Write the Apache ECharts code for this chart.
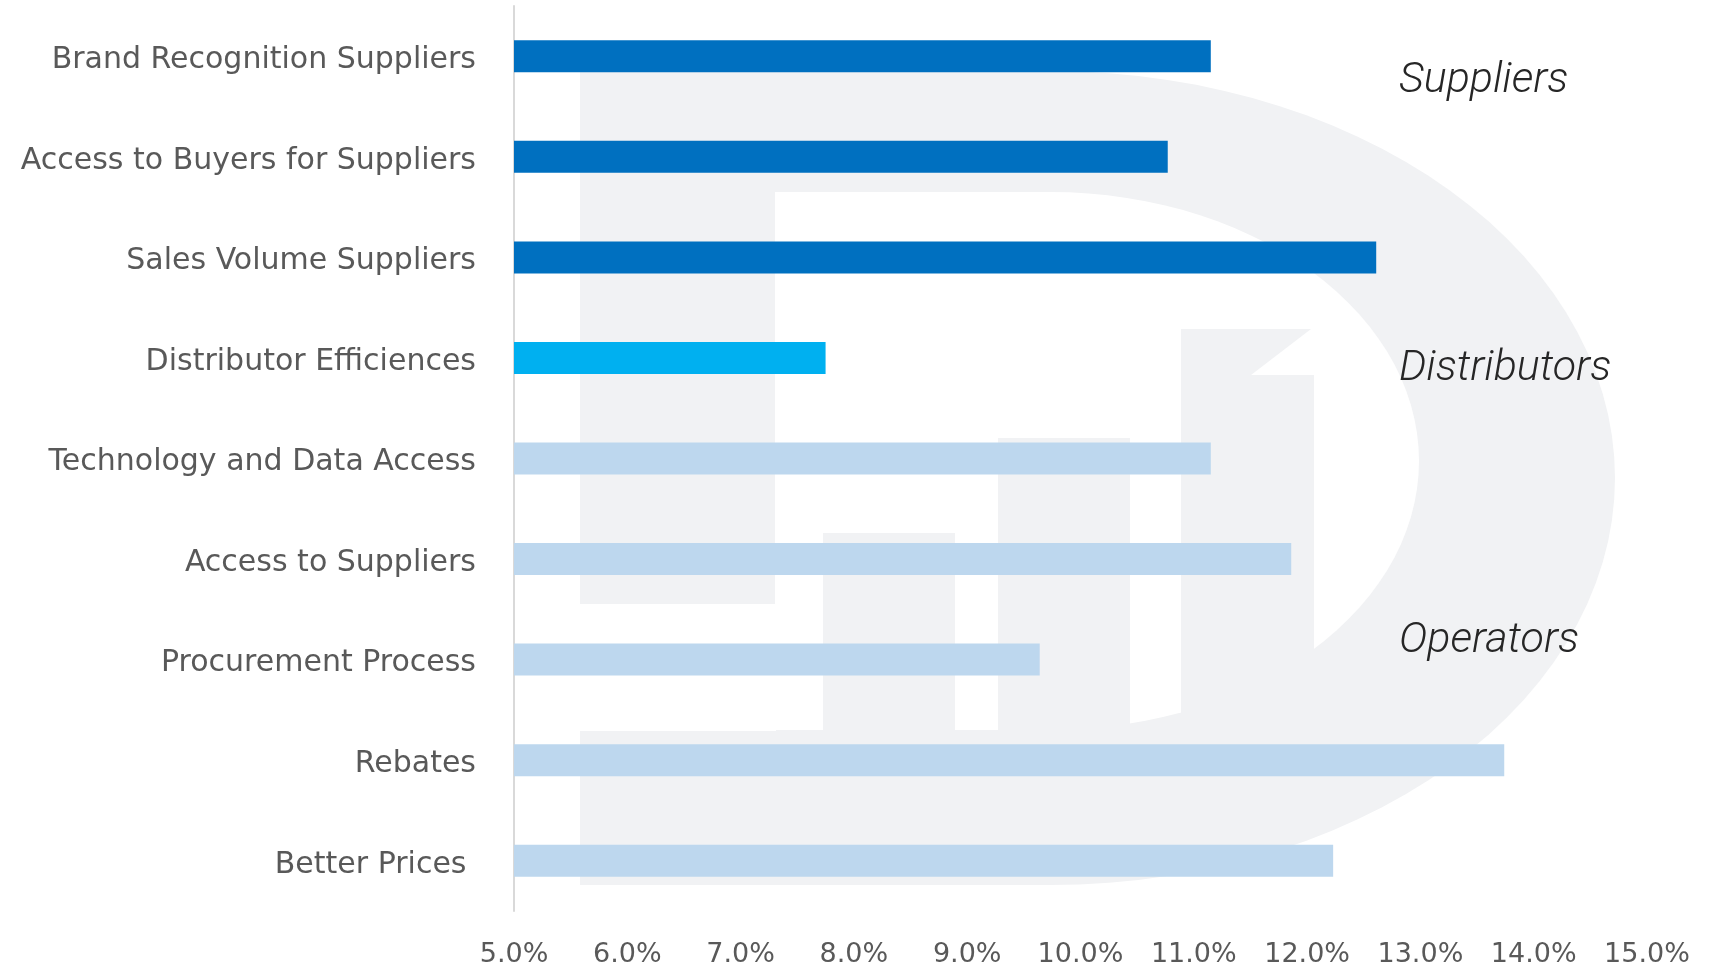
<!DOCTYPE html>
<html>
<head>
<meta charset="utf-8">
<script src="https://cdn.jsdelivr.net/npm/echarts@6/dist/echarts.min.js"></script>
<style>
html,body{margin:0;padding:0;background:#fff;}
#chart{width:1723px;height:970px;}
</style>
</head>
<body>
<div id="chart"></div>
<script>
// ---- data ----
const categories = [
  'Brand Recognition Suppliers',
  'Access to Buyers for Suppliers',
  'Sales Volume Suppliers',
  'Distributor Efficiences',
  'Technology and Data Access',
  'Access to Suppliers',
  'Procurement Process',
  'Rebates',
  'Better Prices '
];
const groups = ['Suppliers','Suppliers','Suppliers','Distributors','Operators','Operators','Operators','Operators','Operators'];
const values = [11.15, 10.77, 12.61, 7.75, 11.15, 11.86, 9.64, 13.74, 12.23];
const groupLabels = ['Suppliers', 'Distributors', 'Operators'];
const xTicks = [5, 15, 1]; // min, max, step (percent)

// ---- styling ----
const groupColors = { Suppliers: '#0070C0', Distributors: '#00B0F0', Operators: '#BDD7EE' };
const wm = '#f1f2f4';

// decorative watermark "D" outline (pixel geometry, not data)
function dShape(left, top, bottom, cx, rx) {
  const cy = (top + bottom) / 2, ry = (bottom - top) / 2;
  const pts = [[left, top]];
  for (let k = 0; k <= 60; k++) {
    const a = -Math.PI / 2 + Math.PI * k / 60;
    pts.push([cx + rx * Math.cos(a), cy + ry * Math.sin(a)]);
  }
  pts.push([left, bottom]);
  return pts;
}

const chart = echarts.init(document.getElementById('chart'), null, { renderer: 'canvas' });

const labelPos = { Suppliers: 81, Distributors: 369, Operators: 641 };

const option = {
  animation: false,
  backgroundColor: '#ffffff',
  grid: { left: 514, right: 76, top: 6, height: 905 },
  xAxis: {
    type: 'value',
    min: xTicks[0], max: xTicks[1], interval: xTicks[2],
    axisLine: { show: false },
    axisTick: { show: false },
    splitLine: { show: false },
    axisLabel: {
      color: '#595959', fontSize: 27, fontFamily: 'DejaVu Sans', margin: 30,
      formatter: v => v.toFixed(1) + '%'
    }
  },
  yAxis: {
    type: 'category',
    inverse: true,
    data: categories,
    axisLine: { show: true, lineStyle: { color: '#d9d9d9', width: 2 } },
    axisTick: { show: false },
    axisLabel: {
      margin: 38,
      formatter: v => '{a|' + v + '}',
      rich: { a: { color: '#595959', fontSize: 30, fontFamily: 'DejaVu Sans', padding: [8, 0, 0, 0] } }
    }
  },
  series: [{
    type: 'bar',
    barWidth: 32,
    data: values.map((v, i) => ({ value: v, itemStyle: { color: groupColors[groups[i]] } })),
    z: 5
  }],
  graphic: {
    elements: [
      { type: 'polygon', z: 0, z2: 0, shape: { points: dShape(580, 71, 885, 1050, 565) }, style: { fill: wm } },
      { type: 'polygon', z: 0, z2: 1, shape: { points: dShape(775, 192, 730, 1050, 369) }, style: { fill: '#ffffff' } },
      { type: 'rect', z: 0, z2: 2, shape: { x: 580, y: 604, width: 196, height: 127 }, style: { fill: '#ffffff' } },
      { type: 'rect', z: 0, z2: 3, shape: { x: 823, y: 533, width: 132, height: 200 }, style: { fill: wm } },
      { type: 'rect', z: 0, z2: 3, shape: { x: 998, y: 438, width: 132, height: 295 }, style: { fill: wm } },
      { type: 'polygon', z: 0, z2: 3, shape: { points: [[1181,329],[1311,329],[1251,375],[1314,375],[1314,733],[1181,733]] }, style: { fill: wm } }
    ].concat(groupLabels.map(g => ({
      type: 'text', z: 10, x: 1399, y: labelPos[g],
      style: {
        text: g, fill: '#262626', font: 'italic 300 43px Roboto',
        verticalAlign: 'middle'
      }
    })))
  }
};
chart.setOption(option);
</script>
</body>
</html>
